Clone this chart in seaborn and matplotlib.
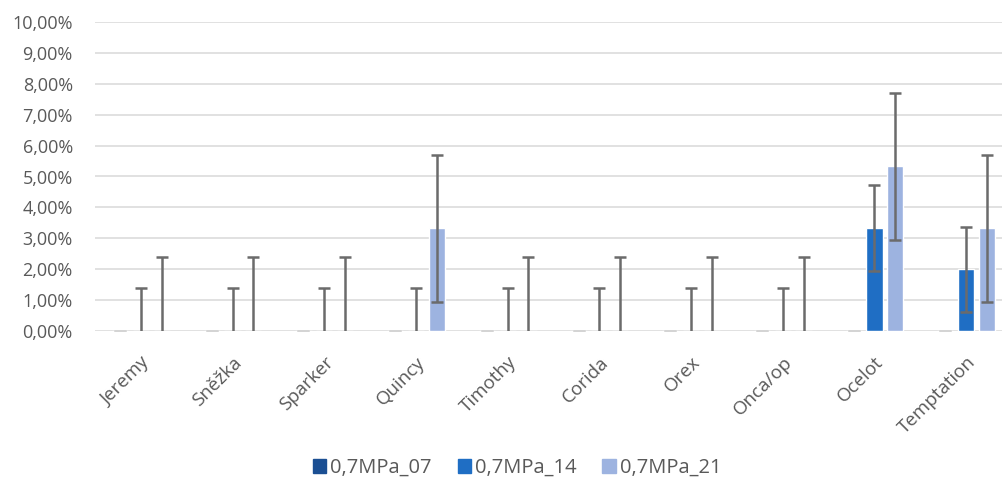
import numpy as np
import pandas as pd
import matplotlib
matplotlib.use("Agg")
import matplotlib.pyplot as plt
from matplotlib.ticker import FuncFormatter, MultipleLocator
import seaborn as sns

# ---------------------------------------------------------
# Data (in %)
# ---------------------------------------------------------
varieties = ["Jeremy", "Sněžka", "Sparker", "Quincy", "Timothy",
             "Corida", "Orex", "Onca/op", "Ocelot", "Temptation"]
series_names = ["0,7MPa_07", "0,7MPa_14", "0,7MPa_21"]

mean_07 = [0, 0, 0, 0, 0, 0, 0, 0, 0, 0]
mean_14 = [0, 0, 0, 0, 0, 0, 0, 0, 3.33, 2.00]
mean_21 = [0, 0, 0, 3.33, 0, 0, 0, 0, 5.33, 3.33]

err_07 = [0, 0, 0, 0, 0, 0, 0, 0, 0, 0]
err_14 = [1.38, 1.38, 1.38, 1.38, 1.38, 1.38, 1.38, 1.38, 1.38, 1.38]
err_21 = [2.38, 2.38, 2.38, 2.38, 2.38, 2.38, 2.38, 2.38, 2.38, 2.38]

colors = ["#1b4f93", "#1f6ec4", "#9db3e0"]
err_colors = ["#d4d4d4", "#6b6b6b", "#6b6b6b"]

means = [mean_07, mean_14, mean_21]
errs = [err_07, err_14, err_21]

df = pd.DataFrame({
    "variety": varieties * 3,
    "series": np.repeat(series_names, len(varieties)),
    "value": np.concatenate(means) / 100.0,
})

# ---------------------------------------------------------
# Plot
# ---------------------------------------------------------
sns.set_theme(style="white")
plt.rcParams["font.family"] = ["Open Sans", "DejaVu Sans"]
text_col = "#595959"

fig = plt.figure(figsize=(10.02, 4.86), dpi=100)
ax = fig.add_axes([95 / 1002, 1 - 331 / 486, 1 - 95 / 1002, (331 - 22) / 486])

sns.barplot(data=df, x="variety", y="value", hue="series",
            hue_order=series_names, palette=colors,
            width=0.68, gap=0.22, errorbar=None, saturation=1,
            ax=ax, legend=False, zorder=3)

# error bars, taken from the bar positions
for cont, err, ec in zip(ax.containers, errs, err_colors):
    xs = [p.get_x() + p.get_width() / 2 for p in cont.patches]
    ys = [p.get_height() for p in cont.patches]
    ax.errorbar(xs, ys, yerr=np.array(err) / 100.0, fmt="none",
                ecolor=ec, elinewidth=1.8, capsize=4, capthick=1.8,
                zorder=4, clip_on=True)

ax.set_ylim(0, 0.10)
ax.set_xlim(-0.5, 9.5 - 10 / 92)
ax.yaxis.set_major_locator(MultipleLocator(0.01))
ax.yaxis.set_major_formatter(FuncFormatter(lambda v, p: f"{v * 100:.2f}%".replace(".", ",")))
ax.grid(axis="y", color="#dcdcdc", linewidth=1.2, zorder=0)
ax.set_axisbelow(True)
for s in ax.spines.values():
    s.set_visible(False)
ax.set_xlabel("")
ax.set_ylabel("")
ax.tick_params(axis="y", colors=text_col, labelsize=13, length=0, pad=16)
ax.tick_params(axis="x", colors=text_col, labelsize=13.5, length=0, pad=16)
plt.setp(ax.get_xticklabels(), rotation=45, ha="right", rotation_mode="anchor")

handles = [plt.Rectangle((0, 0), 1, 1, color=c) for c in colors]
fig.legend(handles, series_names, loc="center", bbox_to_anchor=(517 / 1002, 1 - 468 / 486),
           ncol=3, frameon=False, fontsize=14.5, labelcolor=text_col,
           handlelength=0.65, handleheight=0.65, handletextpad=0.2, columnspacing=1.3)

fig.savefig("out.png", dpi=100)
